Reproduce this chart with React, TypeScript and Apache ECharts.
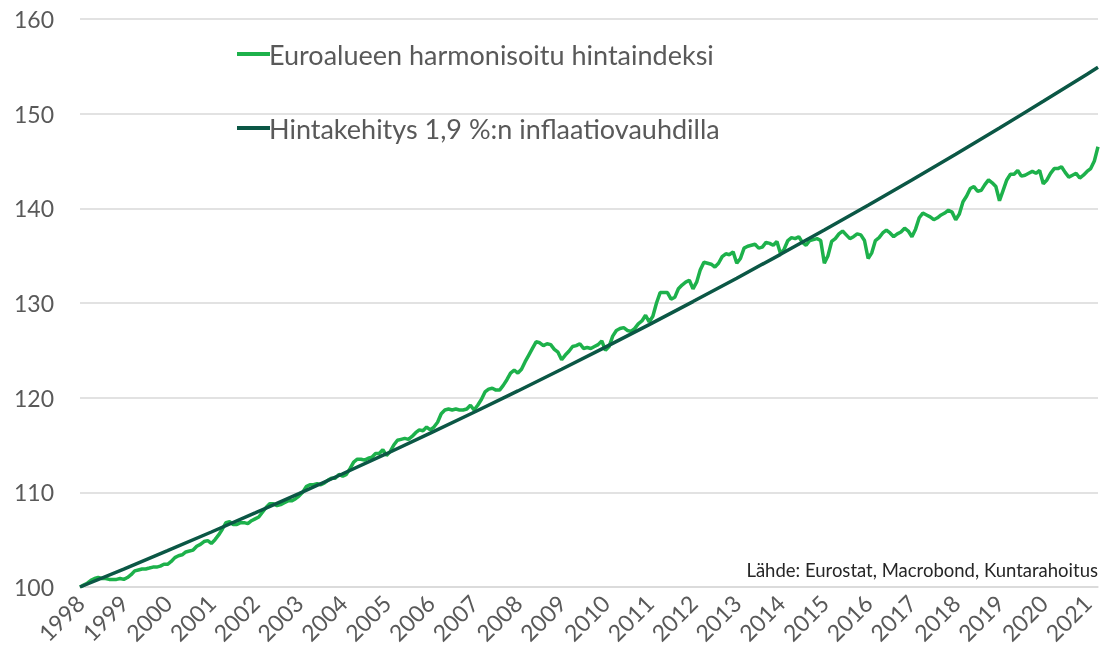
import React, { useEffect, useRef } from "react";
import * as echarts from "echarts";

const startYear = 1998;
const yearLabels = ["1998","1999","2000","2001","2002","2003","2004","2005","2006","2007","2008","2009","2010","2011","2012","2013","2014","2015","2016","2017","2018","2019","2020","2021"];

// Euro area HICP, Jan 1998 = 100, monthly Jan 1998 .. Apr 2021
const hicpMonthly = [
  100.0, 100.2, 100.4, 100.7, 100.9, 101.0, 100.9, 100.9, 100.8, 100.8, 100.8, 100.9,
  100.8, 101.0, 101.3, 101.7, 101.8, 101.9, 101.9, 102.0, 102.1, 102.1, 102.2, 102.4,
  102.4, 102.7, 103.1, 103.3, 103.4, 103.7, 103.8, 103.9, 104.3, 104.5, 104.8, 104.9,
  104.6, 105.0, 105.5, 106.1, 106.8, 106.9, 106.6, 106.6, 106.8, 106.8, 106.7, 107.0,
  107.2, 107.4, 107.9, 108.4, 108.8, 108.8, 108.6, 108.7, 108.9, 109.1, 109.1, 109.3,
  109.6, 110.0, 110.6, 110.8, 110.8, 110.9, 110.8, 111.0, 111.3, 111.5, 111.5, 111.9,
  111.7, 111.9, 112.5, 113.2, 113.5, 113.5, 113.4, 113.6, 113.7, 114.1, 114.1, 114.5,
  113.9, 114.3, 115.0, 115.5, 115.6, 115.7, 115.6, 115.9, 116.3, 116.6, 116.5, 116.9,
  116.6, 116.9, 117.4, 118.3, 118.7, 118.8, 118.7, 118.8, 118.7, 118.7, 118.8, 119.2,
  118.7, 119.2, 119.8, 120.6, 120.9, 121.0, 120.8, 120.8, 121.3, 121.9, 122.6, 122.9,
  122.6, 123.0, 123.8, 124.5, 125.2, 125.9, 125.8, 125.5, 125.7, 125.6, 125.1, 124.8,
  124.0, 124.5, 124.9, 125.4, 125.5, 125.7, 125.2, 125.3, 125.2, 125.4, 125.6, 126.0,
  125.0, 125.4, 126.5, 127.1, 127.3, 127.4, 127.1, 127.0, 127.3, 127.8, 128.1, 128.7,
  128.0, 128.6, 130.0, 131.1, 131.1, 131.1, 130.4, 130.6, 131.5, 131.9, 132.2, 132.4,
  131.5, 132.2, 133.5, 134.3, 134.2, 134.1, 133.8, 134.2, 134.9, 135.2, 135.1, 135.4,
  134.2, 134.7, 135.8, 136.0, 136.1, 136.2, 135.8, 135.9, 136.4, 136.3, 136.1, 136.5,
  135.2, 135.7, 136.6, 136.9, 136.8, 137.0, 136.4, 136.1, 136.6, 136.7, 136.8, 136.6,
  134.2, 135.0, 136.5, 136.8, 137.3, 137.6, 137.2, 136.8, 137.0, 137.3, 137.2, 136.6,
  134.7, 135.3, 136.6, 136.9, 137.4, 137.7, 137.4, 137.0, 137.3, 137.5, 137.9, 137.6,
  137.0, 137.8, 139.0, 139.5, 139.3, 139.1, 138.8, 139.0, 139.3, 139.5, 139.8, 139.6,
  138.8, 139.4, 140.7, 141.3, 142.1, 142.3, 141.8, 141.9, 142.5, 143.0, 142.7, 142.3,
  140.8, 141.9, 143.0, 143.6, 143.6, 144.0, 143.4, 143.5, 143.7, 143.9, 143.7, 144.0,
  142.6, 143.0, 143.7, 144.2, 144.2, 144.4, 143.8, 143.3, 143.5, 143.7, 143.2, 143.5,
  143.9, 144.2, 145.0, 146.5,
];

// Price path at 1.9 % inflation, value at each January, plus last month (Apr 2021)
const trendTimes = [1998, 1999, 2000, 2001, 2002, 2003, 2004, 2005, 2006, 2007, 2008, 2009, 2010, 2011, 2012, 2013, 2014, 2015, 2016, 2017, 2018, 2019, 2020, 2021, 2021.25];
const trendValues = [100.0, 101.9, 103.84, 105.81, 107.82, 109.87, 111.96, 114.08, 116.25, 118.46, 120.71, 123.0, 125.34, 127.72, 130.15, 132.62, 135.14, 137.71, 140.32, 142.99, 145.71, 148.48, 151.3, 154.17, 154.9];

const seriesNames = ["Euroalueen harmonisoitu hintaindeksi", "Hintakehitys 1,9 %:n inflaatiovauhdilla"];
const sourceText = "Lähde: Eurostat, Macrobond, Kuntarahoitus";

const FONT = "Lato, 'Noto Sans', sans-serif";

export default function App() {
  const ref = useRef<HTMLDivElement>(null);
  useEffect(() => {
    if (!ref.current) return;
    const chart = echarts.init(ref.current, undefined, { renderer: "svg" });
    const hicpData = hicpMonthly.map((v, i) => [startYear + i / 12, v]);
    const trendData = trendTimes.map((t, i) => [t, trendValues[i]]);
    const lastTime = startYear + (hicpMonthly.length - 1) / 12;
    chart.setOption({
      animation: false,
      textStyle: { fontFamily: FONT },
      grid: { left: 80, right: 2, top: 19, bottom: 73, containLabel: false },
      legend: {
        orient: "vertical",
        left: 232,
        top: 33,
        itemWidth: 33,
        itemHeight: 4,
        itemGap: 42,
        icon: "rect",
        textStyle: { fontFamily: FONT, fontSize: 27, color: "#595959", lineHeight: 32, padding: [0, 0, 0, -6] },
        data: seriesNames,
      },
      xAxis: {
        type: "value",
        min: startYear,
        max: lastTime,
        interval: 1,
        splitLine: { show: false },
        axisTick: { show: false },
        axisLine: { show: true, lineStyle: { color: "#d9d9d9", width: 1.5 } },
        axisLabel: {
          rotate: 45,
          margin: 12,
          fontFamily: FONT,
          fontSize: 23,
          color: "#595959",
          showMaxLabel: false,
          formatter: (v: number) => {
            const idx = Math.round(v - startYear);
            return Math.abs(v - Math.round(v)) < 1e-6 && idx >= 0 && idx < yearLabels.length ? yearLabels[idx] : "";
          },
        },
      },
      yAxis: {
        type: "value",
        min: 100,
        max: 160,
        interval: 10,
        axisLine: { show: false },
        axisTick: { show: false },
        splitLine: { show: true, lineStyle: { color: "#d9d9d9", width: 1.5 } },
        axisLabel: { margin: 26, fontFamily: FONT, fontSize: 23, color: "#595959" },
      },
      series: [
        {
          name: seriesNames[0],
          type: "line",
          data: hicpData,
          showSymbol: false,
          symbol: "none",
          lineStyle: { color: "#1db14b", width: 3.5 },
          itemStyle: { color: "#1db14b" },
          z: 2,
        },
        {
          name: seriesNames[1],
          type: "line",
          data: trendData,
          showSymbol: false,
          symbol: "none",
          lineStyle: { color: "#0b5745", width: 3.5 },
          itemStyle: { color: "#0b5745" },
          z: 3,
        },
      ],
      graphic: [
        {
          type: "text",
          right: 2,
          top: 560,
          style: { text: sourceText, fontFamily: FONT, fontSize: 18.5, fill: "#262626" },
        },
      ],
    });
    return () => chart.dispose();
  }, []);
  return <div ref={ref} style={{ position: "fixed", left: 0, top: 0, width: 1100, height: 660 }} />;
}
